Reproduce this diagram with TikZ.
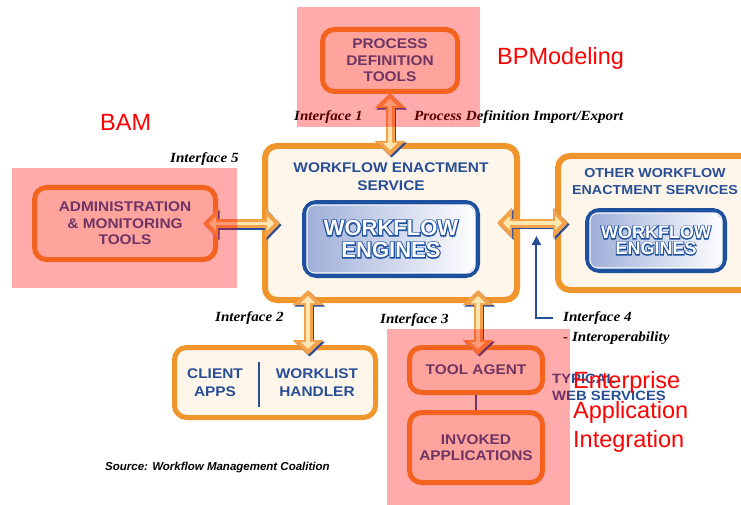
\documentclass[tikz,border=0pt]{standalone}
\usepackage{fontspec}
\setmainfont{Liberation Sans}
\newfontfamily\boxf{Liberation Sans}[FakeStretch=1.1]
\newfontfamily\labf{Liberation Serif}[FakeStretch=1.08]
\newfontfamily\engout{Liberation Sans}[FakeBold=10]
\usetikzlibrary{arrows.meta,calc,shadows}
\definecolor{wfor}{RGB}{240,148,44}
\definecolor{wfcream}{RGB}{254,246,234}
\definecolor{wfnavy}{RGB}{40,78,150}
\definecolor{wfblue}{RGB}{30,80,160}
\definecolor{arrbody}{RGB}{243,162,76}
\definecolor{arrcore}{RGB}{253,230,175}
\definecolor{arrshadow}{RGB}{44,74,154}
\definecolor{engleft}{RGB}{158,174,216}
\tikzset{
  obox/.style={draw=wfor, line width=5pt, fill=wfcream, rounded corners=12pt, inner sep=0pt},
  btext/.style={text=wfnavy, font=\boxf\bfseries\fontsize{14}{16.5}\selectfont, align=center},
  engbox/.style={draw=wfblue, line width=5pt, rounded corners=12pt, left color=engleft, right color=white, inner sep=0pt,
    drop shadow={opacity=0.3, shadow xshift=1.5pt, shadow yshift=-2pt}},
  engtext/.style={text=white, align=center},
  engouttext/.style={text=wfblue, align=center},
  lab/.style={font=\labf\bfseries\itshape\fontsize{14}{16}\selectfont, anchor=base west, inner sep=0pt},
  redt/.style={text=red, font=\fontsize{23.5}{28}\selectfont, anchor=base west, inner sep=0pt},
  pinkov/.style={fill=red, fill opacity=0.33},
  fatshadow/.style={draw=arrshadow, line width=9pt, {Triangle[width=30pt,length=15pt]}-{Triangle[width=30pt,length=15pt]},
    transform canvas={shift={(1.6pt,-1.6pt)}}},
  fatbody/.style={draw=arrbody, line width=9pt, {Triangle[width=30pt,length=15pt]}-{Triangle[width=30pt,length=15pt]}},
  fatcore/.style={draw=arrcore, line width=3.5pt, {Triangle[width=14pt,length=7pt]}-{Triangle[width=14pt,length=7pt]}},
  navyarrow/.style={draw=wfnavy, line width=2pt, -{Triangle[width=9pt,length=9pt]}},
}
\newcommand\fatarrow[4]{%
  \draw[fatshadow, shorten <=#3, shorten >=#4] (#1) -- (#2);
  \draw[fatbody, shorten <=#3, shorten >=#4] (#1) -- (#2);
  \draw[fatcore, shorten <=#3+6pt, shorten >=#4+6pt] (#1) -- (#2);
}
\begin{document}
\begin{tikzpicture}[x=1pt,y=-1pt]
\useasboundingbox (0,0) rectangle (741,505);
\fill[white] (0,0) rectangle (741,505);
\clip (0,0) rectangle (741,505);

% main boxes
\node[obox, btext, minimum width=135pt, minimum height=62pt] (pdt) at (390,60.5) {PROCESS\\DEFINITION\\TOOLS};
\node[obox, line width=6pt, minimum width=252pt, minimum height=154pt] (wes) at (391,223) {};
\node[btext, font=\boxf\bfseries\fontsize{14}{18}\selectfont] (westitle) at (391,177) {WORKFLOW ENACTMENT\\SERVICE};
\node[engbox, minimum width=173pt, minimum height=73pt] (eng) at (391,239) {};
\draw[white, line width=1.2pt, rounded corners=8pt] ($(eng.north west)+(5,5)$) rectangle ($(eng.south east)+(-5,-5)$);
\node[engouttext, font=\engout\bfseries\fontsize{22}{22}\selectfont] (engto) at (eng.center) {WORKFLOW\\ENGINES};
\node[engtext, font=\bfseries\fontsize{22}{22}\selectfont] (engt) at (eng.center) {WORKFLOW\\ENGINES};

\node[obox, line width=6pt, minimum width=201pt, minimum height=134pt] (oth) at (658.5,223) {};
\node[btext, font=\boxf\bfseries\fontsize{13}{17}\selectfont] (othtitle) at (655,182) {OTHER WORKFLOW\\ENACTMENT SERVICES};
\node[engbox, minimum width=137pt, minimum height=60pt] (oeng) at (656,240.5) {};
\draw[white, line width=1.2pt, rounded corners=8pt] ($(oeng.north west)+(5,5)$) rectangle ($(oeng.south east)+(-5,-5)$);
\node[engouttext, font=\engout\bfseries\fontsize{18}{16}\selectfont] (oengto) at (oeng.center) {WORKFLOW\\ENGINES};
\node[engtext, font=\bfseries\fontsize{18}{16}\selectfont] (oengt) at (oeng.center) {WORKFLOW\\ENGINES};

\node[obox, btext, minimum width=181pt, minimum height=72pt] (adm) at (125,223.5) {ADMINISTRATION\\\& MONITORING\\TOOLS};
\node[obox, minimum width=201pt, minimum height=70pt] (cli) at (275,382.5) {};
\node[btext, font=\boxf\bfseries\fontsize{14}{18}\selectfont] (clit) at (215,382.5) {CLIENT\\APPS};
\node[btext, font=\boxf\bfseries\fontsize{14}{18}\selectfont] (wlt) at (317,382.5) {WORKLIST\\HANDLER};
\draw[wfnavy, line width=1.5pt] ($(cli.north)+(-16,17)$) -- ($(cli.south)+(-16,-13)$);

\node[obox, btext, minimum width=133pt, minimum height=45pt] (tool) at (476,370) {TOOL AGENT};
\node[obox, btext, minimum width=133pt, minimum height=70pt] (inv) at (476,447.5) {INVOKED\\APPLICATIONS};
\draw[wfnavy, line width=2.5pt] (tool.south) -- (inv.north);

\node[btext, anchor=base west, inner sep=0pt, align=left, font=\boxf\bfseries\fontsize{13.5}{17}\selectfont] (typ) at (552,400) {TYPICAL\\WEB SERVICES};

% labels
\node[lab] (if1) at (294,121) {Interface 1};
\node[lab] (pdie) at (414,121) {Process Definition Import/Export};
\node[lab] (if5) at (170,163) {Interface 5};
\node[lab] (if2) at (215,321) {Interface 2};
\node[lab] (if3) at (380,323) {Interface 3};
\node[lab] (if4) at (563,321) {Interface 4};
\node[lab] (if4b) at (563,341) {- Interoperability};
\node[anchor=base west, inner sep=0pt, font=\bfseries\itshape\fontsize{11.5}{13}\selectfont] (src) at (105,470) {Source: Workflow Management Coalition};

% fat double arrows
\fatarrow{pdt.south}{pdt.south |- wes.north}{-1pt}{-13pt}
\fatarrow{adm.east}{adm.east -| wes.west}{-15pt}{-18pt}
\fatarrow{wes.east}{wes.east -| oth.west}{-23pt}{-13pt}
\coordinate (i2) at ($(cli.north)+(33,0)$);
\fatarrow{i2}{i2 |- wes.south}{-10pt}{-13pt}
\coordinate (i3) at ($(tool.north)+(2,0)$);
\fatarrow{i3}{i3 |- wes.south}{-10pt}{-13pt}

% interface 4 pointer
\coordinate (i4tip) at ($(wes.east)!0.47!(oth.west)+(0,13)$);
\draw[navyarrow] ([xshift=-10pt]if4.west) -| (i4tip);

% pink overlays
\fill[pinkov] (297,7) rectangle (480,127);
\fill[pinkov] (12,168) rectangle (237,288);
\fill[pinkov] (387,329) rectangle (570,505);

% red annotations
\node[redt] (bpm) at (497,65) {BPModeling};
\node[redt] (bam) at (100,131) {BAM};
\node[redt] (eai1) at (573,388) {Enterprise};
\node[redt] (eai2) at (573,418) {Application};
\node[redt] (eai3) at (573,447) {Integration};
\end{tikzpicture}
\end{document}
